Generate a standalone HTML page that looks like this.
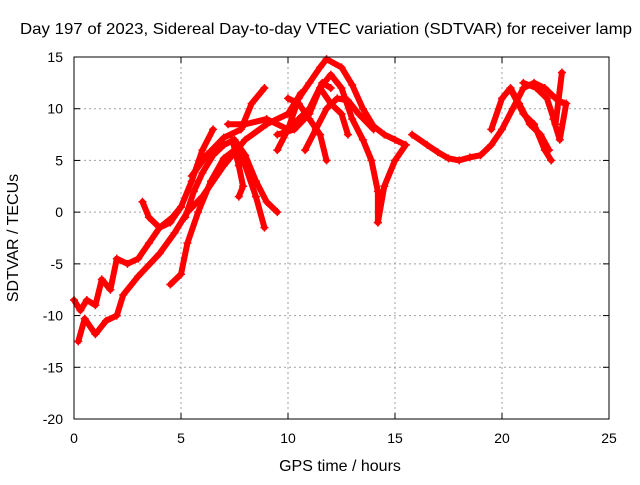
<!DOCTYPE html>
<html><head><meta charset="utf-8"><style>
body{margin:0;background:#fff;}
svg text{font-family:"Liberation Sans",sans-serif;font-size:14px;fill:#000;}
svg text.big{font-size:16px;}
</style></head><body>
<svg id="chart" width="640" height="480" xmlns="http://www.w3.org/2000/svg">
<rect width="640" height="480" fill="#fff"/>
<text class="big" x="20" y="34" textLength="612" lengthAdjust="spacingAndGlyphs">Day 197 of 2023, Sidereal Day-to-day VTEC variation (SDTVAR) for receiver lamp</text>
<g id="grid"></g>
<g id="ticks"></g>
<g id="series"></g>
<rect x="74" y="57" width="535" height="362" fill="none" stroke="#000" stroke-width="1"/>
<text class="big" x="340" y="471" text-anchor="middle">GPS time / hours</text>
<text class="big" transform="translate(18,238) rotate(-90)" text-anchor="middle">SDTVAR / TECUs</text>
</svg>
<script>
const xTicks=[0,5,10,15,20,25];
const yTicks=[15,10,5,0,-5,-10,-15,-20];
const track1=[[0.2,-12.5],[0.5,-10.3],[1,-11.8],[1.5,-10.5],[2,-10],[2.3,-8],[3,-6.2],[4,-4],[4.7,-2],[5.3,0],[6,1.5],[7,4.5],[8,7],[9,8.5],[10,9.5],[10.6,11.5]];
const track2=[[0,-8.5],[0.3,-9.5],[0.6,-8.5],[1,-9],[1.3,-6.5],[1.7,-7.5],[2,-4.5],[2.5,-5],[3,-4.5],[3.5,-3],[4,-1.5],[4.6,-0.5],[5,0.5]];
const track3=[[3.2,1],[3.5,-0.5],[4,-1.5],[4.5,-1],[5,0.5],[5.5,3],[6,6],[6.5,8]];
const track4=[[4.5,-7],[5,-6],[5.3,-3],[5.8,0],[6.4,3],[7,5.2],[7.5,6],[8,4.5],[8.5,1.5],[8.9,-1.5]];
const track5=[[5.2,-0.5],[5.6,2],[6,3.8],[6.5,5.5],[7,6.5],[7.5,7],[8,5.5],[8.5,3],[9,1],[9.5,0]];
const track6=[[5.5,3.5],[6.2,5.5],[7,7.2],[7.8,8],[8.3,10.5],[8.9,12]];
const track7=[[7.4,7],[7.7,4.5],[7.9,2.5],[7.7,1.5]];
const track8=[[7.2,8.5],[8,8.5],[9,9],[10,8],[10.5,9],[11,10],[11.6,12.5],[12,12]];
const track9=[[9.5,6],[10,8],[10.5,11],[11,12.5],[11.5,14],[11.8,14.8],[12.5,14],[13,12.3],[13.5,10],[14,8.3],[14.5,7.5],[15,7],[15.5,6.5]];
const track10=[[9.5,7.5],[10.3,8],[11,9.5],[11.5,12],[12,13.3],[12.5,12],[13,9],[13.5,7],[13.9,5],[14.2,2],[14.2,-1]];
const track11=[[14.2,-1],[14.5,2.5],[15,5],[15.5,6.5]];
const track12=[[10.8,6],[11.3,8],[11.8,10],[12.3,11],[12.8,10.8],[13.3,9.5],[14,8]];
const track13=[[10,11],[10.5,10.5],[11,9],[11.5,7.5],[11.8,5]];
const track14=[[11.5,12],[12,10.5],[12.5,9.5],[12.8,7.5]];
const track15=[[15.8,7.5],[16.5,6.5],[17,5.8],[17.5,5.2],[18,5],[18.5,5.3],[19,5.5],[19.5,6.5],[20,8],[20.5,10],[21,12],[21.5,12.5],[22,12],[22.5,11],[22.9,10.5]];
const track16=[[19.5,8],[20,11],[20.4,12],[20.8,10.5],[21.3,8.5],[21.8,7.5],[22.2,6]];
const track17=[[20.5,11.5],[21,9.5],[21.5,8.5],[22,6],[22.3,5]];
const track18=[[21,12.5],[21.6,12],[22.1,11],[22.5,8.5],[22.8,13.5]];
const track19=[[22.4,9],[22.7,7],[23,10.5]];
const tracks=[track1,track2,track3,track4,track5,track6,track7,track8,track9,track10,track11,track12,track13,track14,track15,track16,track17,track18,track19];
const NS="http://www.w3.org/2000/svg";
const X0=74,X1=609,Y0=419,Y1=57;
function xs(v){return X0+(v-0)/(25-0)*(X1-X0);}
function ys(v){return Y0-(v+20)/(35)*(Y0-Y1);}
const grid=document.getElementById('grid'),ticks=document.getElementById('ticks'),series=document.getElementById('series');
function mk(tag,attrs,parent){const e=document.createElementNS(NS,tag);for(const k in attrs)e.setAttribute(k,attrs[k]);parent.appendChild(e);return e;}
xTicks.forEach(t=>{const x=xs(t);
 if(t>0&&t<25){const g=mk('line',{x1:x,x2:x,y1:Y1,y2:Y0,stroke:'#a0a0a0','stroke-dasharray':'2,3'},grid);
 
 }
 mk('line',{x1:x,x2:x,y1:Y0,y2:Y0-6,stroke:'#000'},ticks);mk('line',{x1:x,x2:x,y1:Y1,y2:Y1+6,stroke:'#000'},ticks);
 const l=mk('text',{x:x,y:443,'text-anchor':'middle'},ticks);l.textContent=t;
 
 });
yTicks.forEach(t=>{const y=ys(t);
 if(t>-20&&t<15){const g=mk('line',{x1:X0,x2:X1,y1:y,y2:y,stroke:'#a0a0a0','stroke-dasharray':'2,3'},grid);
 
 }
 mk('line',{x1:X0,x2:X0+6,y1:y,y2:y,stroke:'#000'},ticks);mk('line',{x1:X1,x2:X1-6,y1:y,y2:y,stroke:'#000'},ticks);
 const l=mk('text',{x:63,y:y+5,'text-anchor':'end'},ticks);l.textContent=t;
 
 });
tracks.forEach((tr,i)=>{
 const p=mk('polyline',{points:tr.map(d=>xs(d[0])+','+ys(d[1])).join(' '),fill:'none',stroke:'#ff0000','stroke-width':6,'stroke-linejoin':'round','stroke-linecap':'round'},series);
 
 
 tr.forEach(d=>{const x=xs(d[0]),y=ys(d[1]);
  const m=mk('path',{d:`M${x-4},${y}H${x+4}M${x},${y-4}V${y+4}`,stroke:'#ff0000','stroke-width':1.5},series);
  
  });
});
</script>
</body></html>
